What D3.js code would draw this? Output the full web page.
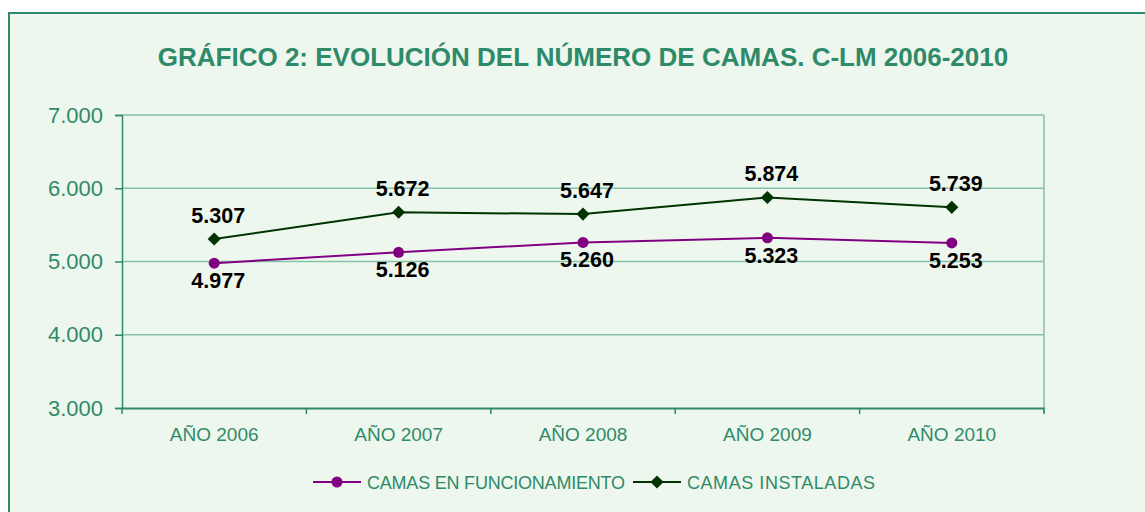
<!DOCTYPE html>
<html>
<head>
<meta charset="utf-8">
<script src="https://cdn.jsdelivr.net/npm/d3@7"></script>
<style>
    body { margin: 0; background: #fff; }
    #chart { width: 1145px; height: 512px; }
    text { font-family: "Liberation Sans", Arial, sans-serif; }
</style>
</head>
<body>
<div id="chart"></div>
<script>

// chart data
const years = ["AÑO 2006", "AÑO 2007", "AÑO 2008", "AÑO 2009", "AÑO 2010"];
const camasFuncionamiento = [4977, 5126, 5260, 5323, 5253];
const camasInstaladas = [5307, 5672, 5647, 5874, 5739];
const yTicks = [3000, 4000, 5000, 6000, 7000];
const seriesNames = ["CAMAS EN FUNCIONAMIENTO", "CAMAS INSTALADAS"];

const green = "#2e8a68";
const gridColor = "#86c2a6";
const purple = "#800080";
const darkGreen = "#003300";

var width = 1145;
var height = 512;

var svg = d3.select("#chart")
    .append("svg")
    .attr("width", width)
    .attr("height", height);

// outer frame
svg.append("rect")
    .attr("x", 9)
    .attr("y", 13)
    .attr("width", width)
    .attr("height", height)
    .attr("fill", "#eef7ee")
    .attr("stroke", green)
    .attr("stroke-width", 2);

svg.append("text")
    .attr("x", 583)
    .attr("y", 66)
    .attr("text-anchor", "middle")
    .attr("font-size", 26)
    .attr("font-weight", "bold")
    .attr("fill", green)
    .text("GRÁFICO 2: EVOLUCIÓN DEL NÚMERO DE CAMAS. C-LM 2006-2010");

/*
SCALES
*/
var xScale = d3.scaleBand()
    .domain(years)
    .range([122, 1044]);

var yScale = d3.scaleLinear()
    .domain([3000, 7000])
    .range([408, 115]);

var fmt = function (v) {
    return d3.format(",")(v).replace(/,/g, ".");
};

// gridlines
svg.append("g")
    .selectAll("line")
    .data(yTicks.slice(1))
    .join("line")
    .attr("x1", 122)
    .attr("x2", 1044)
    .attr("y1", d => yScale(d))
    .attr("y2", d => yScale(d))
    .attr("stroke", gridColor)
    .attr("stroke-width", 1.5);

// right edge of plot area
svg.append("line")
    .attr("x1", 1044).attr("x2", 1044)
    .attr("y1", 115).attr("y2", 413)
    .attr("stroke", gridColor)
    .attr("stroke-width", 1.5);

// y axis
const yAxis = svg.append("g")
    .attr("transform", "translate(122,0)")
    .call(d3.axisLeft(yScale).tickValues(yTicks).tickFormat(fmt).tickSizeOuter(0).tickSize(7).tickPadding(12));
yAxis.selectAll("line, path").attr("stroke", green).attr("stroke-width", 1.5);
yAxis.selectAll("text")
    .attr("fill", green)
    .attr("font-size", 22)
    .style("font-family", "'Liberation Sans', Arial, sans-serif");

// x axis, ticks at band edges
const xAxis = svg.append("g")
    .attr("transform", "translate(0,408)")
    .call(d3.axisBottom(xScale).tickSize(0).tickSizeOuter(0).tickPadding(20));
xAxis.select("path").attr("stroke", green).attr("stroke-width", 2);
xAxis.selectAll("text")
    .attr("fill", green)
    .attr("font-size", 19)
    .style("font-family", "'Liberation Sans', Arial, sans-serif");

xAxis.selectAll(".edge")
    .data(years.concat(["end"]))
    .join("line")
    .attr("class", "edge")
    .attr("x1", (d, i) => i < years.length ? xScale(d) : xScale.range()[1])
    .attr("x2", (d, i) => i < years.length ? xScale(d) : xScale.range()[1])
    .attr("y1", 0)
    .attr("y2", 6)
    .attr("stroke", green)
    .attr("stroke-width", 1.5);

const cx = d => xScale(d) + xScale.bandwidth() / 2;

var line = d3.line()
    .x((d, i) => cx(years[i]))
    .y(d => yScale(d));

// lines
svg.append("path")
    .datum(camasFuncionamiento)
    .attr("d", line)
    .attr("fill", "none")
    .attr("stroke", purple)
    .attr("stroke-width", 2);

svg.append("path")
    .datum(camasInstaladas)
    .attr("d", line)
    .attr("fill", "none")
    .attr("stroke", darkGreen)
    .attr("stroke-width", 2);

// markers
svg.append("g")
    .selectAll("circle")
    .data(camasFuncionamiento)
    .join("circle")
    .attr("cx", (d, i) => cx(years[i]))
    .attr("cy", d => yScale(d))
    .attr("r", 5.5)
    .attr("fill", purple);

var diamond = d3.symbol().type(d3.symbolDiamond2).size(110);
svg.append("g")
    .selectAll("path")
    .data(camasInstaladas)
    .join("path")
    .attr("transform", (d, i) => `translate(${cx(years[i])},${yScale(d)})`)
    .attr("d", diamond)
    .attr("fill", darkGreen);

// data labels
svg.append("g")
    .selectAll("text")
    .data(camasFuncionamiento)
    .join("text")
    .attr("x", (d, i) => cx(years[i]) + 4)
    .attr("y", d => yScale(d) + 25)
    .attr("text-anchor", "middle")
    .attr("font-size", 21.5)
    .attr("font-weight", "bold")
    .attr("fill", "#000")
    .text(fmt);

svg.append("g")
    .selectAll("text")
    .data(camasInstaladas)
    .join("text")
    .attr("x", (d, i) => cx(years[i]) + 4)
    .attr("y", d => yScale(d) - 16)
    .attr("text-anchor", "middle")
    .attr("font-size", 21.5)
    .attr("font-weight", "bold")
    .attr("fill", "#000")
    .text(fmt);

/*
LEGEND
*/
const legendX = [313, 633];
const legend = svg.append("g")
    .selectAll("g")
    .data(seriesNames)
    .join("g")
    .attr("transform", (d, i) => `translate(${legendX[i]},482)`);

legend.append("line")
    .attr("x1", 0).attr("x2", 48)
    .attr("stroke", (d, i) => i === 0 ? purple : darkGreen)
    .attr("stroke-width", 2);

legend.filter((d, i) => i === 0).append("circle")
    .attr("cx", 24).attr("r", 5.5).attr("fill", purple);
legend.filter((d, i) => i === 1).append("path")
    .attr("transform", "translate(24,0)")
    .attr("d", diamond)
    .attr("fill", darkGreen);

legend.append("text")
    .attr("x", 54)
    .attr("y", 6.5)
    .attr("font-size", 18)
    .attr("fill", green)
    .attr("textLength", (d, i) => i === 0 ? 258 : 188)
    .attr("lengthAdjust", "spacing")
    .text(d => d);

</script>
</body>
</html>
